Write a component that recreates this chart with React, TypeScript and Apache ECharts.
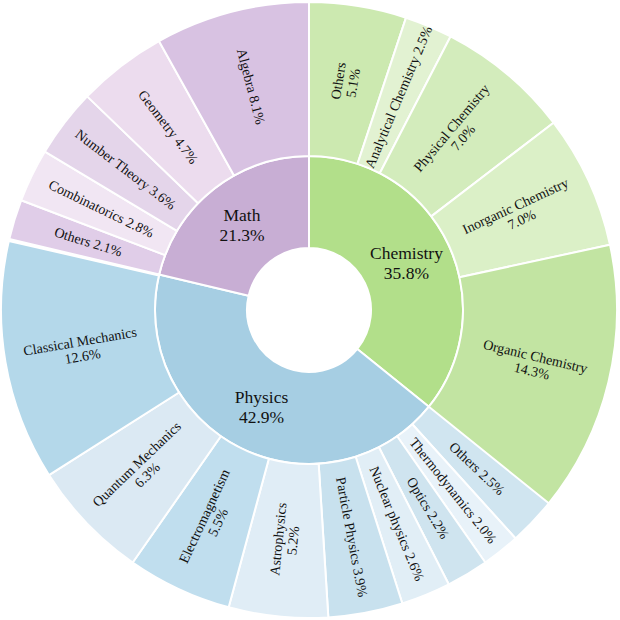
import React, { useEffect, useRef } from "react";
import * as echarts from "echarts";

// Inner ring
const fields = ["Chemistry", "Physics", "Math"];
const fieldValues = [35.8, 42.9, 21.3];
const fieldColors = ["#b2df8a", "#a6cee3", "#c8aed4"];

// Outer ring
const chemNames = ["Others", "Analytical Chemistry", "Physical Chemistry", "Inorganic Chemistry", "Organic Chemistry"];
const chemValues = [5.1, 2.5, 7.0, 7.0, 14.3];
const chemColors = ["#cce9b0", "#e2f2d2", "#d3ecbc", "#dbf0c7", "#c2e4a2"];

const physNames = ["Others", "Thermodynamics", "Optics", "Nuclear physics", "Particle Physics", "Astrophysics", "Electromagnetism", "Quantum Mechanics", "Classical Mechanics"];
const physValues = [2.5, 2.0, 2.2, 2.6, 3.9, 5.2, 5.5, 6.3, 12.6];
const physColors = ["#d0e5f0", "#e8f2f9", "#cfe4ef", "#e1eef6", "#c8e1ee", "#e0edf6", "#c0deee", "#dbe9f3", "#b4d8ea"];

const mathNames = ["Others", "Combinatorics", "Number Theory", "Geometry", "Algebra"];
const mathValues = [2.1, 2.8, 3.6, 4.7, 8.1];
const mathColors = ["#e0cde8", "#f1e6f3", "#e4d5ea", "#ecdcee", "#d8c2e2"];

// Labels drawn on two lines (name / percentage)
const chemTwoLine = [true, false, true, true, true];
const physTwoLine = [false, false, false, false, false, true, true, true, true];
const mathTwoLine = [false, false, false, false, false];

const childNames = [chemNames, physNames, mathNames];
const childValues = [chemValues, physValues, mathValues];
const childColors = [chemColors, physColors, mathColors];
const childTwoLine = [chemTwoLine, physTwoLine, mathTwoLine];

const FONT = "Liberation Serif, Times New Roman, serif";

export default function App() {
  const ref = useRef<HTMLDivElement>(null);
  useEffect(() => {
    if (!ref.current) return;
    const chart = echarts.init(ref.current, null, { renderer: "svg" });
    const data = fields.map((f, i) => ({
      name: f,
      value: fieldValues[i],
      itemStyle: { color: fieldColors[i] },
      children: childNames[i].map((n, j) => ({
        name: n,
        value: childValues[i][j],
        itemStyle: { color: childColors[i][j] },
        label: {
          formatter: childTwoLine[i][j]
            ? `${n}\n${childValues[i][j].toFixed(1)}%`
            : `${n} ${childValues[i][j].toFixed(1)}%`,
        },
      })),
    }));
    chart.setOption({
      animation: false,
      textStyle: { fontFamily: FONT },
      series: [
        {
          type: "sunburst",
          center: [309, 310],
          radius: [62, 308],
          sort: null,
          startAngle: 90,
          clockwise: true,
          data,
          itemStyle: { borderColor: "#ffffff", borderWidth: 2 },
          emphasis: { disabled: true },
          levels: [
            {},
            {
              r0: 62,
              r: 154,
              label: {
                rotate: 0,
                fontFamily: FONT,
                fontSize: 17.5,
                color: "#111",
                lineHeight: 20,
                formatter: (p: any) => `${p.name}\n${p.value.toFixed(1)}%`,
              },
            },
            {
              r0: 154,
              r: 308,
              label: {
                rotate: "radial",
                fontFamily: FONT,
                fontSize: 14,
                color: "#111",
                lineHeight: 15,
              },
            },
          ],
        },
      ],
    });
    return () => chart.dispose();
  }, []);
  return (
    <div
      ref={ref}
      style={{ position: "absolute", left: 0, top: 0, width: 620, height: 620 }}
    />
  );
}
